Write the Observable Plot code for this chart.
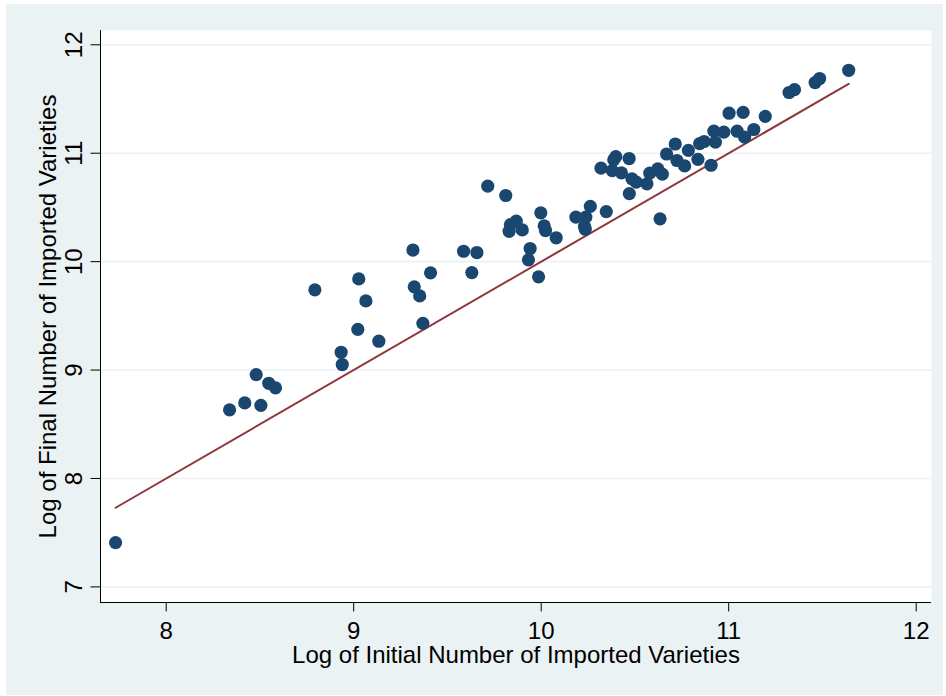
<!DOCTYPE html>
<html>
<head>
<meta charset="utf-8">
<script src="https://cdn.jsdelivr.net/npm/d3@7"></script>
<script src="https://cdn.jsdelivr.net/npm/@observablehq/plot@0.6"></script>
<style>
  html, body { margin: 0; padding: 0; background: #ffffff; }
  #wrap { position: relative; width: 946px; height: 696px; background: #ffffff; }
  #chart { position: absolute; left: 6px; top: 4px; }
  svg { font-family: "Liberation Sans", Arial, sans-serif; }
</style>
</head>
<body>
<div id="wrap"><div id="chart"></div></div>
<script>
// Log of initial number of imported varieties (x) and log of final number (y)
const initialLog = [
  7.730, 8.338, 8.419, 8.505, 8.480, 8.547, 8.583, 8.793, 8.933, 8.939,
  9.027, 9.022, 9.065, 9.134, 9.316, 9.410, 9.323, 9.352, 9.369, 9.586,
  9.657, 9.630, 9.715, 9.811, 9.998, 9.867, 9.836, 9.829, 9.899, 10.016,
  10.023, 10.080, 9.941, 9.932, 9.986, 10.185, 10.238, 10.262, 10.231, 10.235,
  10.347, 10.634, 10.319, 10.379, 10.398, 10.387, 10.469, 10.428, 10.484, 10.507,
  10.470, 10.564, 10.579, 10.622, 10.646, 10.669, 10.715, 10.724, 10.765, 10.785,
  10.836, 10.845, 10.869, 10.906, 10.921, 10.929, 10.974, 11.002, 11.045, 11.077,
  11.085, 11.134, 11.195, 11.322, 11.351, 11.461, 11.485, 11.640
];
const finalLog = [
  7.409, 8.633, 8.697, 8.675, 8.958, 8.878, 8.836, 9.740, 9.164, 9.051,
  9.841, 9.376, 9.638, 9.266, 10.107, 9.897, 9.768, 9.684, 9.431, 10.096,
  10.084, 9.899, 10.696, 10.610, 10.450, 10.373, 10.342, 10.280, 10.293, 10.330,
  10.287, 10.220, 10.121, 10.017, 9.860, 10.411, 10.411, 10.510, 10.324, 10.299,
  10.462, 10.395, 10.862, 10.840, 10.968, 10.939, 10.951, 10.819, 10.764, 10.734,
  10.628, 10.718, 10.817, 10.856, 10.807, 10.993, 11.085, 10.933, 10.883, 11.027,
  10.944, 11.089, 11.108, 10.889, 11.204, 11.102, 11.194, 11.369, 11.203, 11.377,
  11.148, 11.219, 11.340, 11.560, 11.586, 11.652, 11.689, 11.765
];
const xTicks = [8, 9, 10, 11, 12];
const yTicks = [7, 8, 9, 10, 11, 12];
const xTitle = "Log of Initial Number of Imported Varieties";
const yTitle = "Log of Final Number of Imported Varieties";

const points = initialLog.map((x, i) => ({x, y: finalLog[i]}));
const [xMin, xMax] = d3.extent(initialLog);
const fitLine = [{x: xMin, y: xMin}, {x: xMax, y: xMax}]; // 45-degree line over data range

const xDomain = [7.6496, 12.0816];
const yDomain = [6.856, 12.132];

const BG = "#eaf2f3";
const chart = Plot.plot({
  width: 937,
  height: 691,
  marginLeft: 94,
  marginTop: 26,
  marginRight: 12,
  marginBottom: 93,
  style: {background: BG, fontFamily: "'Liberation Sans', Arial, sans-serif", color: "#000"},
  x: {domain: xDomain},
  y: {domain: yDomain},
  marks: [
    Plot.frame({fill: "white", stroke: "none"}),
    Plot.ruleY(yTicks, {stroke: BG, strokeWidth: 1.6}),
    Plot.ruleX([xDomain[0]], {stroke: "#000", strokeWidth: 1}),
    Plot.ruleY([yDomain[0]], {stroke: "#000", strokeWidth: 1}),
    Plot.axisX({ticks: xTicks, tickFormat: "d", tickSize: 9.5, tickPadding: 10, fontSize: 24, label: null, stroke: "#000", fill: "#000"}),
    Plot.axisY({ticks: yTicks, tickFormat: "d", tickSize: 9.5, tickPadding: 9, fontSize: 24, label: null, tickRotate: -90, textAnchor: "middle", lineAnchor: "bottom", stroke: "#000", fill: "#000"}),
    Plot.line(fitLine, {x: "x", y: "y", stroke: "#90353b", strokeWidth: 2}),
    Plot.dot(points, {x: "x", y: "y", r: 6.6, fill: "#1a476f", stroke: "none"}),
    Plot.text([xTitle], {frameAnchor: "bottom", dy: 60, textAnchor: "middle", lineAnchor: "bottom", fontSize: 24, fill: "#000"}),
    Plot.text([yTitle], {frameAnchor: "left", dx: -45, rotate: -90, textAnchor: "middle", lineAnchor: "bottom", fontSize: 24, fill: "#000"})
  ]
});
document.getElementById("chart").appendChild(chart);
</script>
</body>
</html>
